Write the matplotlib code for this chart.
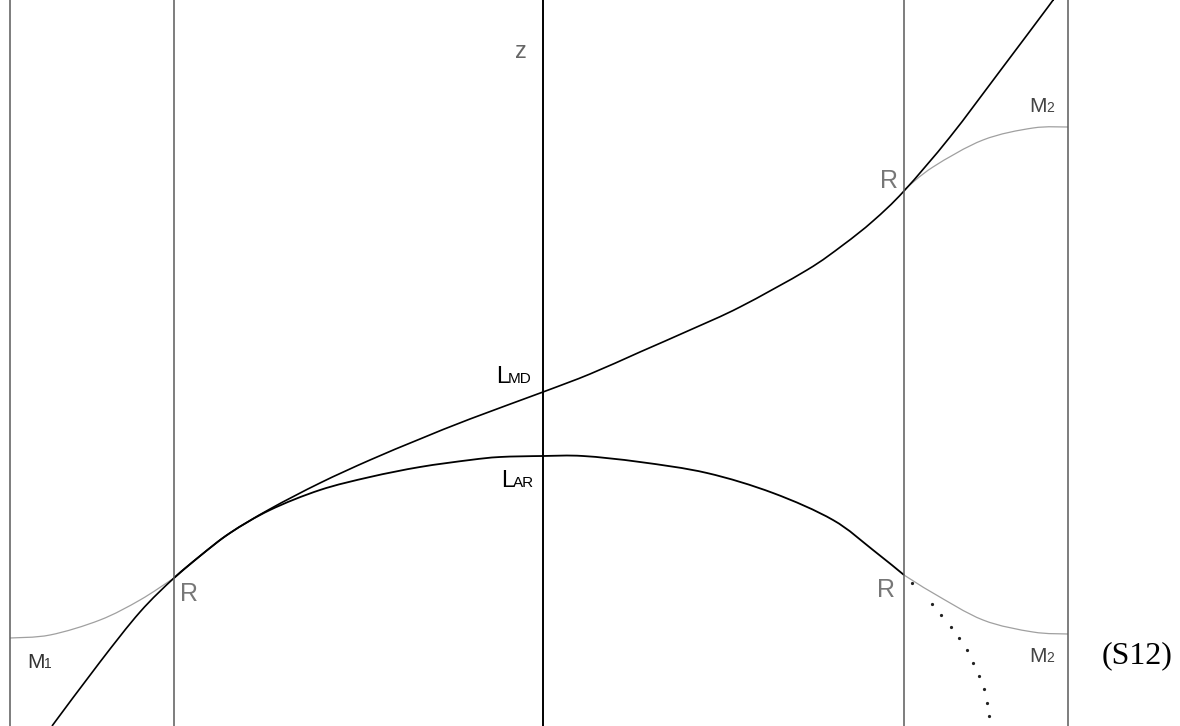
import matplotlib
matplotlib.use("Agg")
import matplotlib.pyplot as plt
from matplotlib.path import Path
from matplotlib.patches import PathPatch

# abscissa measured from the z axis, ordinate z measured from the bottom edge
x_md = [-491, -443, -403, -369, -343, -313, -273, -223, -173, -123, -73, 0,
        47, 97, 147, 197, 264, 300, 330, 361, 407, 457, 505, 510]
z_md = [0, 64, 114, 148, 170, 193, 217, 243, 266, 287, 307, 334,
        352, 374, 396, 419, 456, 481, 505, 535, 589, 655, 719, 726]

x_ar = [-369, -343, -313, -273, -223, -173, -123, -73, -43, 0, 40, 97, 164, 230, 290, 330, 361]
z_ar = [148, 170, 193, 216, 236, 249, 259, 266, 269, 270, 270, 264, 253, 233, 206, 176, 151]

# dotted continuation of L_AR past the right boundary
x_ar_ext = [369, 389, 398, 408, 416, 424, 430, 436, 441, 444, 446]
z_ar_ext = [143, 122, 111, 99, 88, 76, 63, 50, 37, 23, 10]

x_m1 = [-533, -493, -443, -403, -369]
z_m1 = [88, 91, 106, 126, 148]

x_m2_top = [361, 390, 440, 490, 525]
z_m2_top = [536, 559, 586, 598, 599]

x_m2_low = [361, 390, 440, 490, 525]
z_m2_low = [151, 133, 106, 94, 92]

# boundaries: outer walls, R planes and the z axis
x_walls = [-533, 525]
x_r = [-369, 361]
x_axis = 0


def smooth_path(xs, zs):
    # cubic bezier through every point (Catmull-Rom tangents)
    pts = list(zip(xs, zs))
    verts = [pts[0]]
    codes = [Path.MOVETO]
    n = len(pts)
    for i in range(n - 1):
        p0 = pts[i - 1] if i > 0 else pts[i]
        p1 = pts[i]
        p2 = pts[i + 1]
        p3 = pts[i + 2] if i + 2 < n else pts[i + 1]
        c1 = (p1[0] + (p2[0] - p0[0]) / 6, p1[1] + (p2[1] - p0[1]) / 6)
        c2 = (p2[0] - (p3[0] - p1[0]) / 6, p2[1] - (p3[1] - p1[1]) / 6)
        verts += [c1, c2, p2]
        codes += [Path.CURVE4] * 3
    return Path(verts, codes)


def curve(ax, xs, zs, **kw):
    ax.add_patch(PathPatch(smooth_path(xs, zs), fill=False, **kw))


fig = plt.figure(figsize=(11.8, 7.26), dpi=100)
ax = fig.add_axes([0, 0, 1, 1])
ax.set_xlim(-543, 637)
ax.set_ylim(0, 726)
ax.axis("off")

for xv in x_walls:
    ax.axvline(xv, color="#5a5a5a", lw=1.1)
for xv in x_r:
    ax.axvline(xv, color="#5a5a5a", lw=1.1)
ax.axvline(x_axis, color="black", lw=1.4)

curve(ax, x_m1, z_m1, edgecolor="#a0a0a0", lw=0.9)
curve(ax, x_m2_top, z_m2_top, edgecolor="#a0a0a0", lw=0.9)
curve(ax, x_m2_low, z_m2_low, edgecolor="#a0a0a0", lw=0.9)

curve(ax, x_md, z_md, edgecolor="black", lw=1.2)
curve(ax, x_ar, z_ar, edgecolor="black", lw=1.3)
ax.plot(x_ar_ext, z_ar_ext, ls="none", marker="o", ms=1.3, color="#222222")

sans = "Liberation Sans"
ax.text(-22, 674, "z", fontsize=17, color="#666666", family=sans, ha="center", va="center")

ax.text(-47, 343, "L", fontsize=17, color="black", family=sans, va="baseline")
ax.text(-35, 343, "MD", fontsize=11, color="black", family=sans, va="baseline")
ax.text(-42, 239, "L", fontsize=17, color="black", family=sans, va="baseline")
ax.text(-30, 239, "AR", fontsize=11, color="black", family=sans, va="baseline")

ax.text(-363, 125, "R", fontsize=18, color="#777777", family=sans, va="baseline")
ax.text(334, 129, "R", fontsize=18, color="#777777", family=sans, va="baseline")
ax.text(337, 538, "R", fontsize=18, color="#777777", family=sans, va="baseline")

ax.text(-516, 58, "M", fontsize=15, color="#333333", family=sans, va="baseline")
ax.text(-499, 58, "1", fontsize=10, color="#333333", family=sans, va="baseline")
ax.text(486, 614, "M", fontsize=15, color="#444444", family=sans, va="baseline")
ax.text(503, 614, "2", fontsize=10, color="#444444", family=sans, va="baseline")
ax.text(486, 64, "M", fontsize=15, color="#444444", family=sans, va="baseline")
ax.text(503, 64, "2", fontsize=10, color="#444444", family=sans, va="baseline")

ax.text(559, 70, "(S12)", fontsize=23, color="black", family="Liberation Serif", va="center")

fig.savefig("out.png", dpi=100, facecolor="white")
